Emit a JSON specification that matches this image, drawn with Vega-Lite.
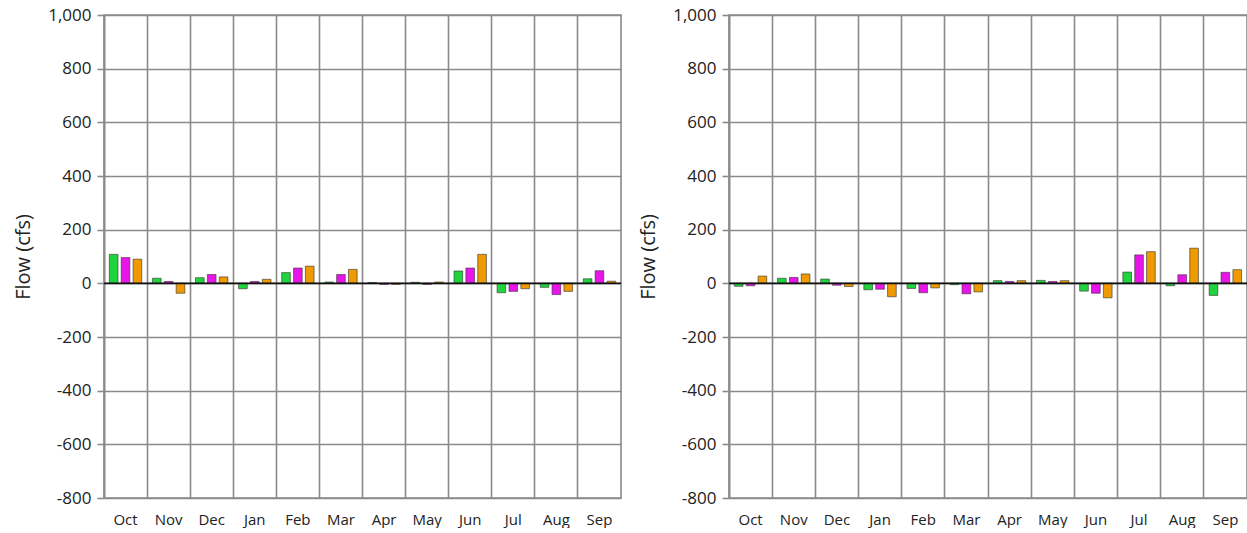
{
  "$schema": "https://vega.github.io/schema/vega-lite/v6.json",
  "background": "white",
  "padding": {"left": 12, "top": 5, "right": 0, "bottom": 0},
  "spacing": 14,
  "datasets": {
    "flows": [
      {"panel": "L", "month": "Oct", "series": "A", "value": 108},
      {"panel": "L", "month": "Oct", "series": "B", "value": 96},
      {"panel": "L", "month": "Oct", "series": "C", "value": 90},
      {"panel": "L", "month": "Nov", "series": "A", "value": 19},
      {"panel": "L", "month": "Nov", "series": "B", "value": 7},
      {"panel": "L", "month": "Nov", "series": "C", "value": -37},
      {"panel": "L", "month": "Dec", "series": "A", "value": 21},
      {"panel": "L", "month": "Dec", "series": "B", "value": 33},
      {"panel": "L", "month": "Dec", "series": "C", "value": 24},
      {"panel": "L", "month": "Jan", "series": "A", "value": -20},
      {"panel": "L", "month": "Jan", "series": "B", "value": 7},
      {"panel": "L", "month": "Jan", "series": "C", "value": 15},
      {"panel": "L", "month": "Feb", "series": "A", "value": 40},
      {"panel": "L", "month": "Feb", "series": "B", "value": 57},
      {"panel": "L", "month": "Feb", "series": "C", "value": 64},
      {"panel": "L", "month": "Mar", "series": "A", "value": 5},
      {"panel": "L", "month": "Mar", "series": "B", "value": 33},
      {"panel": "L", "month": "Mar", "series": "C", "value": 52},
      {"panel": "L", "month": "Apr", "series": "A", "value": 3},
      {"panel": "L", "month": "Apr", "series": "B", "value": -4},
      {"panel": "L", "month": "Apr", "series": "C", "value": -4},
      {"panel": "L", "month": "May", "series": "A", "value": 4},
      {"panel": "L", "month": "May", "series": "B", "value": -4},
      {"panel": "L", "month": "May", "series": "C", "value": 5},
      {"panel": "L", "month": "Jun", "series": "A", "value": 46},
      {"panel": "L", "month": "Jun", "series": "B", "value": 57},
      {"panel": "L", "month": "Jun", "series": "C", "value": 108},
      {"panel": "L", "month": "Jul", "series": "A", "value": -35},
      {"panel": "L", "month": "Jul", "series": "B", "value": -30},
      {"panel": "L", "month": "Jul", "series": "C", "value": -20},
      {"panel": "L", "month": "Aug", "series": "A", "value": -15},
      {"panel": "L", "month": "Aug", "series": "B", "value": -42},
      {"panel": "L", "month": "Aug", "series": "C", "value": -30},
      {"panel": "L", "month": "Sep", "series": "A", "value": 17},
      {"panel": "L", "month": "Sep", "series": "B", "value": 47},
      {"panel": "L", "month": "Sep", "series": "C", "value": 8},
      {"panel": "R", "month": "Oct", "series": "A", "value": -11},
      {"panel": "R", "month": "Oct", "series": "B", "value": -9},
      {"panel": "R", "month": "Oct", "series": "C", "value": 27},
      {"panel": "R", "month": "Nov", "series": "A", "value": 19},
      {"panel": "R", "month": "Nov", "series": "B", "value": 22},
      {"panel": "R", "month": "Nov", "series": "C", "value": 35},
      {"panel": "R", "month": "Dec", "series": "A", "value": 16},
      {"panel": "R", "month": "Dec", "series": "B", "value": -7},
      {"panel": "R", "month": "Dec", "series": "C", "value": -12},
      {"panel": "R", "month": "Jan", "series": "A", "value": -24},
      {"panel": "R", "month": "Jan", "series": "B", "value": -22},
      {"panel": "R", "month": "Jan", "series": "C", "value": -50},
      {"panel": "R", "month": "Feb", "series": "A", "value": -19},
      {"panel": "R", "month": "Feb", "series": "B", "value": -35},
      {"panel": "R", "month": "Feb", "series": "C", "value": -17},
      {"panel": "R", "month": "Mar", "series": "A", "value": -5},
      {"panel": "R", "month": "Mar", "series": "B", "value": -39},
      {"panel": "R", "month": "Mar", "series": "C", "value": -32},
      {"panel": "R", "month": "Apr", "series": "A", "value": 10},
      {"panel": "R", "month": "Apr", "series": "B", "value": 7},
      {"panel": "R", "month": "Apr", "series": "C", "value": 10},
      {"panel": "R", "month": "May", "series": "A", "value": 11},
      {"panel": "R", "month": "May", "series": "B", "value": 7},
      {"panel": "R", "month": "May", "series": "C", "value": 10},
      {"panel": "R", "month": "Jun", "series": "A", "value": -29},
      {"panel": "R", "month": "Jun", "series": "B", "value": -37},
      {"panel": "R", "month": "Jun", "series": "C", "value": -54},
      {"panel": "R", "month": "Jul", "series": "A", "value": 42},
      {"panel": "R", "month": "Jul", "series": "B", "value": 106},
      {"panel": "R", "month": "Jul", "series": "C", "value": 118},
      {"panel": "R", "month": "Aug", "series": "A", "value": -9},
      {"panel": "R", "month": "Aug", "series": "B", "value": 32},
      {"panel": "R", "month": "Aug", "series": "C", "value": 131},
      {"panel": "R", "month": "Sep", "series": "A", "value": -45},
      {"panel": "R", "month": "Sep", "series": "B", "value": 41},
      {"panel": "R", "month": "Sep", "series": "C", "value": 51}
    ]
  },
  "config": {
    "font": "Open Sans",
    "locale": {"number": {"decimal": ".", "thousands": ",", "grouping": [3], "currency": ["$", ""], "minus": "-"}},
    "view": {"stroke": "#8a8a8a", "strokeWidth": 1.6},
    "axis": {
      "gridColor": "#8a8a8a",
      "gridWidth": 1.6,
      "gridOpacity": 1,
      "labelColor": "#222",
      "titleColor": "#222",
      "labelFont": "Open Sans",
      "titleFont": "Open Sans"
    }
  },
  "hconcat": [
    {
      "width": 517,
      "height": 483,
      "data": {"name": "flows"},
      "transform": [{"filter": "datum.panel === 'L'"}],
      "layer": [
        {
          "mark": {"type": "bar", "stroke": "#333", "strokeWidth": 0.6},
          "encoding": {
            "x": {
              "field": "month", "type": "nominal", "sort": null,
              "scale": {"paddingInner": 0, "paddingOuter": 0},
              "axis": {"title": null, "labelAngle": 0, "ticks": false, "domain": false, "grid": true, "bandPosition": 0, "labelFontSize": 15, "labelPadding": 14}
            },
            "xOffset": {"field": "series", "type": "nominal", "scale": {"paddingInner": 0.27, "paddingOuter": 0.45}},
            "y": {
              "field": "value", "type": "quantitative",
              "scale": {"domain": [-800, 1000], "nice": false},
              "axis": {"title": "Flow (cfs)", "values": [-800, -600, -400, -200, 0, 200, 400, 600, 800, 1000], "format": ",d", "labelFontSize": 17, "titleFontSize": 20, "titleFontWeight": "normal", "tickSize": 7, "tickColor": "#8a8a8a", "tickWidth": 1.6, "domainColor": "#8a8a8a", "domainWidth": 1.6, "labelPadding": 6, "titlePadding": 14}
            },
            "color": {"field": "series", "type": "nominal", "scale": {"domain": ["A", "B", "C"], "range": ["#1fd43c", "#e815e8", "#ee9a00"]}, "legend": null}
          }
        },
        {
          "data": {"values": [{"z": 0}]},
          "mark": {"type": "rule", "color": "#111", "strokeWidth": 1.8},
          "encoding": {"y": {"field": "z", "type": "quantitative"}}
        }
      ]
    },
    {
      "width": 518,
      "height": 483,
      "data": {"name": "flows"},
      "transform": [{"filter": "datum.panel === 'R'"}],
      "layer": [
        {
          "mark": {"type": "bar", "stroke": "#333", "strokeWidth": 0.6},
          "encoding": {
            "x": {
              "field": "month", "type": "nominal", "sort": null,
              "scale": {"paddingInner": 0, "paddingOuter": 0},
              "axis": {"title": null, "labelAngle": 0, "ticks": false, "domain": false, "grid": true, "bandPosition": 0, "labelFontSize": 15, "labelPadding": 14}
            },
            "xOffset": {"field": "series", "type": "nominal", "scale": {"paddingInner": 0.27, "paddingOuter": 0.45}},
            "y": {
              "field": "value", "type": "quantitative",
              "scale": {"domain": [-800, 1000], "nice": false},
              "axis": {"title": "Flow (cfs)", "values": [-800, -600, -400, -200, 0, 200, 400, 600, 800, 1000], "format": ",d", "labelFontSize": 17, "titleFontSize": 20, "titleFontWeight": "normal", "tickSize": 7, "tickColor": "#8a8a8a", "tickWidth": 1.6, "domainColor": "#8a8a8a", "domainWidth": 1.6, "labelPadding": 6, "titlePadding": 14}
            },
            "color": {"field": "series", "type": "nominal", "scale": {"domain": ["A", "B", "C"], "range": ["#1fd43c", "#e815e8", "#ee9a00"]}, "legend": null}
          }
        },
        {
          "data": {"values": [{"z": 0}]},
          "mark": {"type": "rule", "color": "#111", "strokeWidth": 1.8},
          "encoding": {"y": {"field": "z", "type": "quantitative"}}
        }
      ]
    }
  ]
}
